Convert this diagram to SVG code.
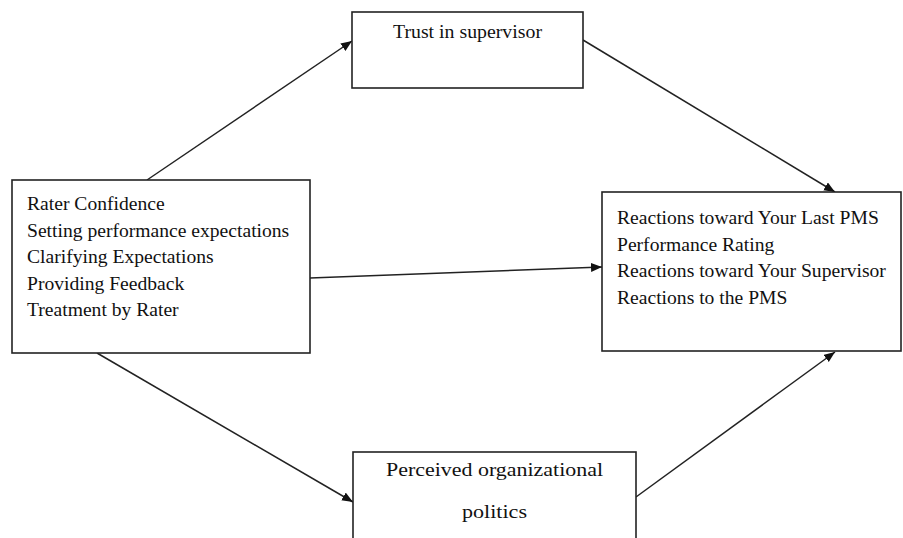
<svg xmlns="http://www.w3.org/2000/svg" width="903" height="538" viewBox="0 0 903 538">
<style>
.box{fill:#fff;stroke:#222;stroke-width:1.6}
.t{font-family:"Liberation Serif","Times New Roman",serif;font-size:19.6px;fill:#111}
.tc{font-family:"Liberation Serif","Times New Roman",serif;font-size:19.5px;fill:#111;text-anchor:middle}
.c{stroke:#222;stroke-width:1.5;fill:none;marker-end:url(#ah)}
</style>
<defs>
<marker id="ah" markerUnits="userSpaceOnUse" markerWidth="12" markerHeight="10" refX="11" refY="4.5" orient="auto">
<path d="M0,0 L11,4.5 L0,9 z" fill="#111"/>
</marker>
</defs>
<rect width="903" height="538" fill="#fff"/>
<g id="connectors">
<line class="c" x1="147" y1="180" x2="352" y2="41"/>
<line class="c" x1="583" y1="40" x2="835" y2="192"/>
<line class="c" x1="310" y1="278" x2="602" y2="267"/>
<line class="c" x1="97" y1="353" x2="353" y2="502"/>
<line class="c" x1="636" y1="497" x2="835" y2="352"/>
</g>
<g id="trust">
<rect class="box" x="352" y="12" width="231" height="76"/>
<text class="tc" x="467.5" y="38" textLength="149" lengthAdjust="spacingAndGlyphs">Trust in supervisor</text>
</g>
<g id="rater">
<rect class="box" x="12" y="180" width="298" height="173"/>
<text class="t" x="27" y="210">Rater Confidence</text>
<text class="t" x="27" y="236.5">Setting performance expectations</text>
<text class="t" x="27" y="263">Clarifying Expectations</text>
<text class="t" x="27" y="289.5">Providing Feedback</text>
<text class="t" x="27" y="316">Treatment by Rater</text>
</g>
<g id="reactions">
<rect class="box" x="602" y="192" width="299" height="159"/>
<text class="t" x="617" y="224">Reactions toward Your Last PMS</text>
<text class="t" x="617" y="250.5">Performance Rating</text>
<text class="t" x="617" y="277">Reactions toward Your Supervisor</text>
<text class="t" x="617" y="303.5">Reactions to the PMS</text>
</g>
<g id="politics">
<rect class="box" x="353" y="452" width="283" height="95"/>
<text class="tc" x="494.5" y="476" textLength="217" lengthAdjust="spacingAndGlyphs">Perceived organizational</text>
<text class="tc" x="494.5" y="518" textLength="65" lengthAdjust="spacingAndGlyphs">politics</text>
</g>
</svg>
